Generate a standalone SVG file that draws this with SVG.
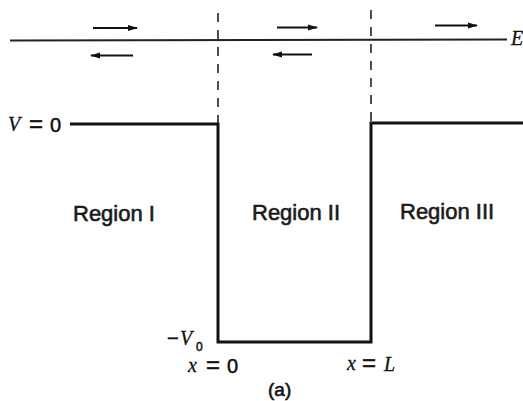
<svg xmlns="http://www.w3.org/2000/svg" width="523" height="401" viewBox="0 0 523 401">
  <defs>
    <marker id="ah" markerWidth="10" markerHeight="7" refX="9" refY="3.5" orient="auto" markerUnits="userSpaceOnUse">
      <path d="M0,0.5 L10,3.5 L0,6.5 z" fill="#111"/>
    </marker>
    <style>
      .wall { fill: none; stroke: #111; stroke-width: 3; stroke-linejoin: miter; }
      .dash { stroke: #222; stroke-width: 1.6; stroke-dasharray: 9 8; fill: none; }
      .eline { stroke: #222; stroke-width: 2; fill: none; }
      .arrow { stroke: #111; stroke-width: 2; fill: none; marker-end: url(#ah); }
      .region { font-family: "Liberation Sans", Arial, sans-serif; font-size: 22px; fill: #1a1a1a; stroke: #1a1a1a; stroke-width: 0.6; }
      .lbl { font-family: "Liberation Sans", Arial, sans-serif; font-size: 20px; fill: #111; stroke: #111; stroke-width: 0.5; }
      .eq { font-family: "Liberation Sans", Arial, sans-serif; font-size: 24px; }
      .it { font-family: "Liberation Serif", "Times New Roman", serif; font-style: italic; font-size: 20px; fill: #111; stroke: #111; stroke-width: 0.3; }
      .cap { font-family: "Liberation Sans", Arial, sans-serif; font-size: 19px; fill: #111; stroke: #111; stroke-width: 0.6; }
    </style>
  </defs>
  <rect width="523" height="401" fill="#ffffff"/>

  <g id="connectors">
    <line class="eline" x1="10" y1="40.5" x2="507" y2="39.5"/>
    <line class="dash" x1="218" y1="13" x2="218" y2="123"/>
    <line class="dash" x1="371" y1="10" x2="371" y2="122"/>
    <path class="wall" d="M70,124 L218,124 L218,342 L371,342 L371,123 L523,123"/>
    <line class="arrow" x1="93" y1="28" x2="137" y2="28"/>
    <line class="arrow" x1="133" y1="55.5" x2="91" y2="55.5"/>
    <line class="arrow" x1="277" y1="27.5" x2="317" y2="27.5"/>
    <line class="arrow" x1="312" y1="54.5" x2="273" y2="54.5"/>
    <line class="arrow" x1="435" y1="25.5" x2="477" y2="25.5"/>
  </g>

  <g id="energy-label">
    <text class="it" x="511" y="45" font-size="18">E</text>
  </g>

  <g id="v0-label">
    <text class="lbl" y="131"><tspan class="it" x="8">V</tspan><tspan class="eq" x="29" y="132">=</tspan><tspan x="50">0</tspan></text>
  </g>

  <g id="region1">
    <text class="region" x="73" y="221">Region I</text>
  </g>
  <g id="region2">
    <text class="region" x="252" y="220">Region II</text>
  </g>
  <g id="region3">
    <text class="region" x="400" y="219">Region III</text>
  </g>

  <g id="minus-v0-label">
    <text class="lbl" y="345"><tspan x="167">−</tspan><tspan class="it" x="180">V</tspan><tspan x="196" y="351" font-size="12">0</tspan></text>
  </g>

  <g id="x0-label">
    <text class="lbl" y="372"><tspan class="it" x="188">x</tspan><tspan class="eq" x="206" y="373">=</tspan><tspan x="227">0</tspan></text>
  </g>

  <g id="xL-label">
    <text class="lbl" y="370"><tspan class="it" x="347">x</tspan><tspan class="eq" x="362" y="371">=</tspan><tspan class="it" x="384">L</tspan></text>
  </g>

  <g id="caption">
    <text class="cap" x="268" y="396">(a)</text>
  </g>
</svg>
